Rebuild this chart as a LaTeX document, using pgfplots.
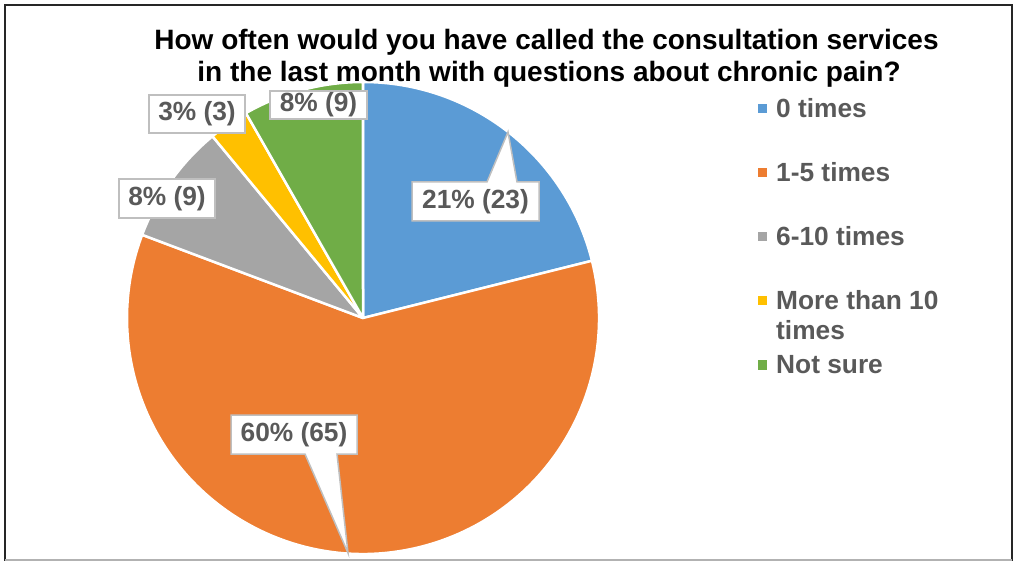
\documentclass[border=0pt]{standalone}
\usepackage{fontspec}
\setmainfont{Liberation Sans}
\usepackage{pgfplots}
\usepackage{pgfplotstable}
\pgfplotsset{compat=1.18}
\definecolor{cblue}{HTML}{5B9BD5}
\definecolor{corange}{HTML}{ED7D31}
\definecolor{cgray}{HTML}{A5A5A5}
\definecolor{cyellow}{HTML}{FFC000}
\definecolor{cgreen}{HTML}{70AD47}
\definecolor{ctext}{HTML}{595959}
\definecolor{cbox}{HTML}{BFBFBF}
\pgfplotstableread{
label value
0times 23
1-5times 65
6-10times 9
more10 3
notsure 9
}\piedata
\begin{document}
\begin{tikzpicture}
\pgfplotstablegetelem{0}{value}\of\piedata \let\vA\pgfplotsretval
\pgfplotstablegetelem{1}{value}\of\piedata \let\vB\pgfplotsretval
\pgfplotstablegetelem{2}{value}\of\piedata \let\vC\pgfplotsretval
\pgfplotstablegetelem{3}{value}\of\piedata \let\vD\pgfplotsretval
\pgfplotstablegetelem{4}{value}\of\piedata \let\vE\pgfplotsretval
\pgfmathsetmacro\total{\vA+\vB+\vC+\vD+\vE}
\pgfmathsetmacro\aA{90}
\pgfmathsetmacro\aB{\aA-360*(\vA/\total)}
\pgfmathsetmacro\aC{\aB-360*(\vB/\total)}
\pgfmathsetmacro\aD{\aC-360*(\vC/\total)}
\pgfmathsetmacro\aE{\aD-360*(\vD/\total)}
\pgfmathsetmacro\aF{\aE-360*(\vE/\total)}
\begin{axis}[
  scale only axis, width=1014pt, height=561pt,
  xmin=0, xmax=1014, ymin=0, ymax=561,
  hide axis, clip=false,
]
\path (axis cs:0,0) rectangle (axis cs:1014,561);
% frame
\draw[black!85, line width=2pt] (axis cs:5,0.5) -- (axis cs:5,556) -- (axis cs:1012,556) -- (axis cs:1012,0.5);
\draw[black!30, line width=1.5pt] (axis cs:5,1.2) -- (axis cs:1012,1.2);
% pie
\def\cx{363}\def\cy{243}\def\rr{236pt}
\fill[cblue, draw=white, line width=2.5pt, line join=round] (axis cs:\cx,\cy) -- ++(\aA:\rr) arc[start angle=\aA, end angle=\aB, radius=\rr] -- cycle;
\fill[corange, draw=white, line width=2.5pt, line join=round] (axis cs:\cx,\cy) -- ++(\aB:\rr) arc[start angle=\aB, end angle=\aC, radius=\rr] -- cycle;
\fill[cgray, draw=white, line width=2.5pt, line join=round] (axis cs:\cx,\cy) -- ++(\aC:\rr) arc[start angle=\aC, end angle=\aD, radius=\rr] -- cycle;
\fill[cyellow, draw=white, line width=2.5pt, line join=round] (axis cs:\cx,\cy) -- ++(\aD:\rr) arc[start angle=\aD, end angle=\aE, radius=\rr] -- cycle;
\fill[cgreen, draw=white, line width=2.5pt, line join=round] (axis cs:\cx,\cy) -- ++(\aE:\rr) arc[start angle=\aE, end angle=\aF, radius=\rr] -- cycle;
% title
\node[anchor=base, font=\fontsize{28}{33}\selectfont\bfseries, text=black] at (axis cs:546.5,511) {How often would you have called the consultation services};
\node[anchor=base, font=\fontsize{28}{33}\selectfont\bfseries, text=black] at (axis cs:549,479.5) {in the last month with questions about chronic pain?};
% data labels
\tikzset{lbl/.style={draw=cbox, fill=white, line width=1.5pt, line join=miter}}
\tikzset{lt/.style={font=\fontsize{26.3}{31}\selectfont\bfseries, text=ctext, inner sep=0pt}}
\filldraw[lbl] (axis cs:412,379) -- (axis cs:487,379) -- (axis cs:508,429) -- (axis cs:517,379) -- (axis cs:539,379) -- (axis cs:539,340) -- (axis cs:412,340) -- cycle;
\node[lt] at (axis cs:475.5,359.5) {21\% (23)};
\filldraw[lbl] (axis cs:231,146) -- (axis cs:357,146) -- (axis cs:357,107) -- (axis cs:337,107) -- (axis cs:348,8) -- (axis cs:305,107) -- (axis cs:231,107) -- cycle;
\node[lt] at (axis cs:294,126.5) {60\% (65)};
\filldraw[lbl] (axis cs:119,382) rectangle (axis cs:215,343);
\node[lt] at (axis cs:167,362.5) {8\% (9)};
\filldraw[lbl] (axis cs:149,466) rectangle (axis cs:245,428);
\node[lt] at (axis cs:197,447) {3\% (3)};
\filldraw[lbl] (axis cs:270,470) rectangle (axis cs:367,442);
\node[lt] at (axis cs:318.5,456) {8\% (9)};
% legend
\tikzset{lg/.style={font=\fontsize{26.3}{31}\selectfont\bfseries, text=ctext, anchor=base west, inner sep=0pt}}
\fill[cblue] (axis cs:758,447.5) rectangle (axis cs:767,456.5);
\node[lg] at (axis cs:776,443) {0 times};
\fill[corange] (axis cs:758,383.5) rectangle (axis cs:767,392.5);
\node[lg] at (axis cs:776,379) {1-5 times};
\fill[cgray] (axis cs:758,319.5) rectangle (axis cs:767,328.5);
\node[lg] at (axis cs:776,315) {6-10 times};
\fill[cyellow] (axis cs:758,255.5) rectangle (axis cs:767,264.5);
\node[lg] at (axis cs:776,251) {More than 10};
\node[lg] at (axis cs:776,221) {times};
\fill[cgreen] (axis cs:758,191.5) rectangle (axis cs:767,200.5);
\node[lg] at (axis cs:776,188) {Not sure};
\end{axis}
\end{tikzpicture}
\end{document}
